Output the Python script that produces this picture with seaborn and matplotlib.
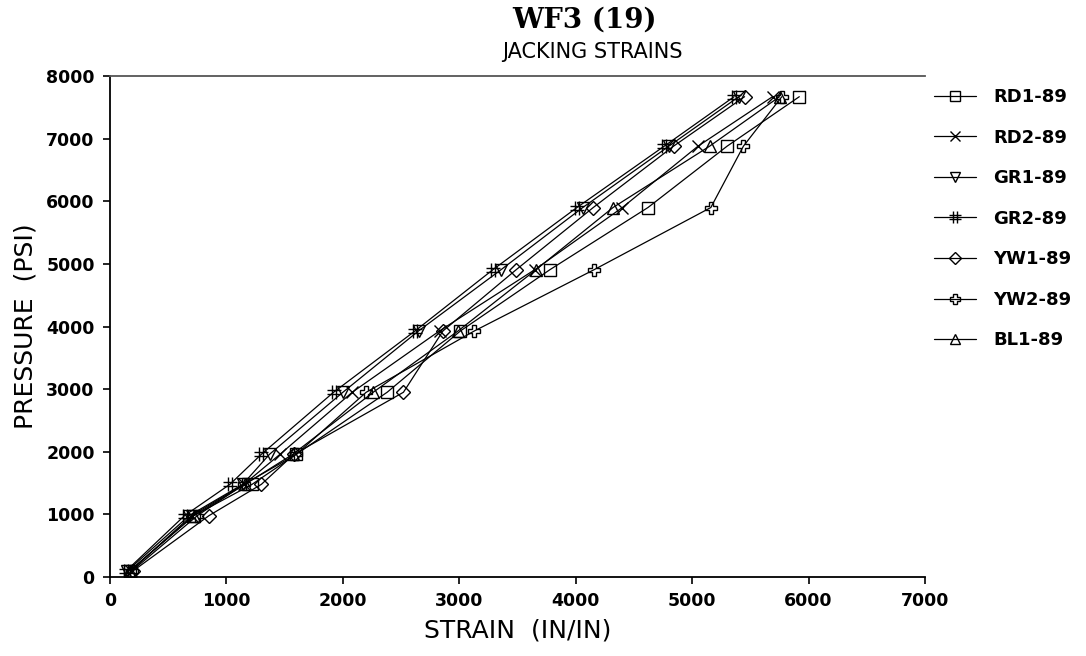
import numpy as np
import pandas as pd
import matplotlib
matplotlib.use("Agg")
import matplotlib.pyplot as plt
from matplotlib.path import Path
from matplotlib.lines import Line2D
import seaborn as sns

# Jacking pressure steps (psi) shared by every gauge
pressure = [100, 980, 1480, 1960, 2950, 3930, 4910, 5900, 6880, 7670]

# Strain readings per gauge (in/in, x1e-6)
rd1 = [170, 720, 1220, 1600, 2380, 3010, 3780, 4620, 5300, 5920]
rd2 = [180, 700, 1150, 1460, 2080, 2830, 3650, 4400, 5050, 5690]
gr1 = [150, 680, 1140, 1370, 2000, 2650, 3360, 4060, 4800, 5400]
gr2 = [140, 640, 1030, 1300, 1920, 2620, 3290, 4010, 4760, 5360]
yw1 = [200, 850, 1300, 1580, 2520, 2860, 3490, 4150, 4840, 5450]
yw2 = [190, 750, 1150, 1600, 2200, 3130, 4160, 5160, 5440, 5770]
bl1 = [170, 720, 1160, 1570, 2260, 2990, 3660, 4320, 5150, 5750]

gauges = ["RD1-89", "RD2-89", "GR1-89", "GR2-89", "YW1-89", "YW2-89", "BL1-89"]
strains = [rd1, rd2, gr1, gr2, yw1, yw2, bl1]

# hash-like marker: two vertical strokes crossed by two horizontal strokes
hash_marker = Path(
    [(-0.35, -1), (-0.35, 1), (0.35, -1), (0.35, 1),
     (-1, -0.3), (1, -0.3), (-1, 0.3), (1, 0.3)],
    [Path.MOVETO, Path.LINETO, Path.MOVETO, Path.LINETO,
     Path.MOVETO, Path.LINETO, Path.MOVETO, Path.LINETO])

markers = {"RD1-89": "s", "RD2-89": "x", "GR1-89": "v", "GR2-89": hash_marker,
           "YW1-89": "D", "YW2-89": "P", "BL1-89": "^"}
msizes = {"RD1-89": 9, "RD2-89": 9, "GR1-89": 8, "GR2-89": 10,
          "YW1-89": 7, "YW2-89": 9, "BL1-89": 8}

df = pd.DataFrame({
    "strain": np.concatenate(strains),
    "pressure": np.tile(pressure, len(gauges)),
    "gauge": np.repeat(gauges, len(pressure)),
})

sns.set_theme(style="ticks")
plt.rcParams["font.family"] = ["DejaVu Sans"]
plt.rcParams["text.color"] = "black"
plt.rcParams["axes.labelcolor"] = "black"
plt.rcParams["xtick.color"] = "black"
plt.rcParams["ytick.color"] = "black"

fig = plt.figure(figsize=(10.86, 6.56), dpi=100)
ax = fig.add_axes([0.1013, 0.1204, 0.7505, 0.7637])

handles = []
for g in gauges:
    sub = df[df["gauge"] == g]
    sns.lineplot(data=sub, x="strain", y="pressure", ax=ax, sort=False,
                 estimator=None, color="black", lw=0.9,
                 marker=markers[g], markersize=msizes[g],
                 markerfacecolor="none", markeredgecolor="black",
                 markeredgewidth=1.0, legend=False)
    handles.append(Line2D([], [], color="black", lw=0.9, marker=markers[g],
                          markersize=msizes[g] * 0.85, markerfacecolor="none",
                          markeredgecolor="black", markeredgewidth=1.0,
                          label=g))

ax.set_xlim(0, 7000)
ax.set_ylim(0, 8000)
ax.set_xticks(range(0, 7001, 1000))
ax.set_yticks(range(0, 8001, 1000))
for lab in ax.get_xticklabels() + ax.get_yticklabels():
    lab.set_fontweight("bold")
    lab.set_fontsize(12.5)
ax.tick_params(direction="out", length=5, width=1.2, colors="black", pad=6)

ax.spines["right"].set_visible(False)
ax.spines["top"].set_color("#555555")
ax.spines["top"].set_linewidth(1.3)
for s in ("left", "bottom"):
    ax.spines[s].set_linewidth(1.3)
    ax.spines[s].set_color("black")

ax.set_xlabel("STRAIN  (IN/IN)", fontsize=18, labelpad=6)
ax.set_ylabel("PRESSURE  (PSI)", fontsize=18, labelpad=6)

fig.text(585 / 1086, 1 - 20 / 656, "WF3 (19)", ha="center", va="center",
         fontsize=20, fontweight="bold", family="DejaVu Serif")
fig.text(592 / 1086, 1 - 52 / 656, "JACKING STRAINS", ha="center",
         va="center", fontsize=15)

fig.legend(handles=handles, loc="upper left",
           bbox_to_anchor=(934 / 1086, 1 - 88 / 656), frameon=False,
           prop={"weight": "bold", "size": 13}, labelspacing=1.25,
           handlelength=2.3, handletextpad=1.0, numpoints=1,
           borderaxespad=0, borderpad=0)

fig.savefig("out.png", dpi=100, facecolor="white")
